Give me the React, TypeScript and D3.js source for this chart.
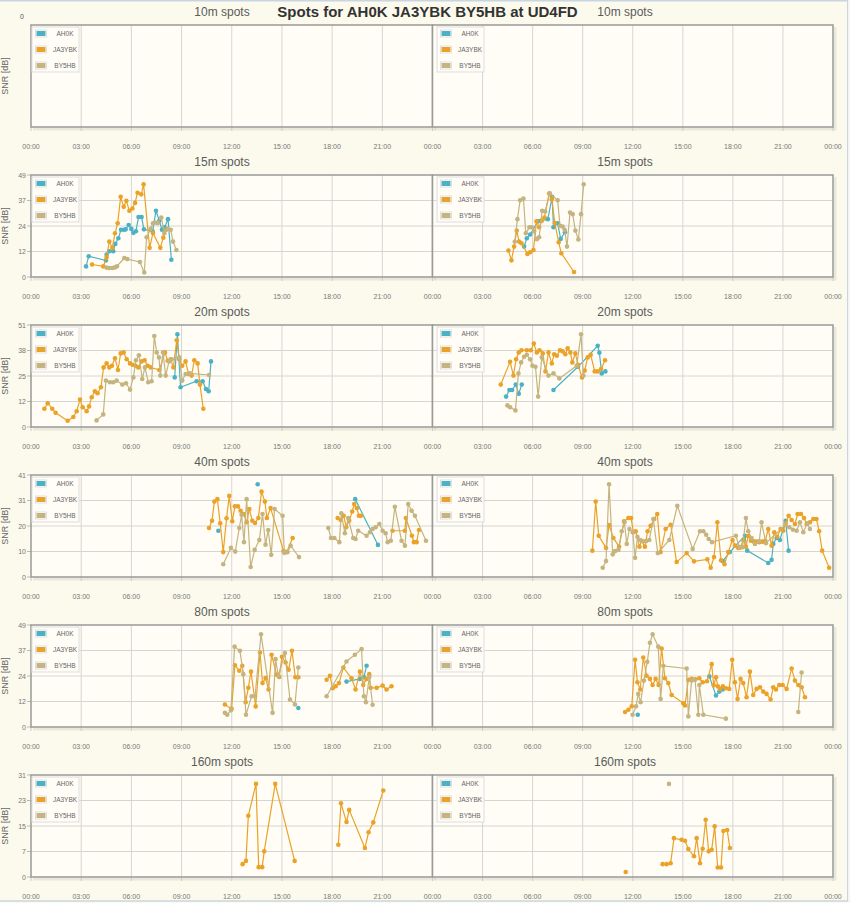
import React from "react";
import * as d3 from "d3";

type P = [number, number];

// ---------- labels ----------
const mainTitle = "Spots for AH0K JA3YBK BY5HB at UD4FD";
const bands = ["10m", "15m", "20m", "40m", "80m", "160m"];
const stations = ["AH0K", "JA3YBK", "BY5HB"];
const stationColors = ["#4bb2c5", "#EAA228", "#c5b47f"];
const xTickLabels = ["00:00", "03:00", "06:00", "09:00", "12:00", "15:00", "18:00", "21:00", "00:00"];
const yMaxByBand = [0, 49, 51, 41, 49, 31];
const yTickLabelsByBand = [[0], [0, 12, 24, 37, 49], [0, 12, 25, 38, 51], [0, 10, 20, 31, 41], [0, 12, 24, 37, 49], [0, 7, 15, 23, 31]];
const GAP_HOURS = 1.5; // spots farther apart than this are not joined

// ---------- data: [hour of day, SNR dB] ----------
const m15L_AH0K: P[] = [[3.29,5.1],[3.45,10.0],[4.48,7.9],[4.52,10.8],[4.68,12.4],[4.92,12.4],[5.04,15.9],[5.22,18.6],[5.38,22.7],[5.56,22.7],[5.66,22.9],[5.84,25.0],[6.0,23.1],[6.12,21.2],[6.27,22.0],[6.43,28.8],[6.61,28.8],[6.75,22.9],[7.27,22.0],[7.47,31.8],[7.67,27.0],[7.83,22.7],[7.99,23.9],[8.19,27.8],[8.39,8.3]];
const m15L_JA3YBK: P[] = [[3.65,6.0],[4.32,5.1],[4.52,9.5],[4.68,17.0],[4.86,14.0],[5.02,21.0],[5.18,25.8],[5.36,38.5],[5.54,33.7],[5.70,36.6],[5.88,31.8],[6.06,32.9],[6.22,35.6],[6.37,40.5],[6.59,39.7],[6.73,44.5],[7.09,14.0],[7.29,21.1],[7.73,14.0],[7.91,18.9],[8.07,22.7]];
const m15L_BY5HB: P[] = [[4.52,4.5],[4.68,4.3],[4.86,4.3],[5.02,4.6],[5.14,5.2],[5.58,9.1],[5.76,8.6],[6.51,7.2],[6.77,2.2],[6.91,19.1],[7.15,23.1],[7.29,25.8],[7.43,26.2],[7.57,25.8],[7.79,28.6],[7.97,21.0],[8.17,23.1],[8.35,22.7],[8.49,17.0],[8.69,13.0]];
const m15R_AH0K: P[] = [[5.49,14.6],[5.65,18.6],[5.85,20.4],[6.31,26.7],[6.49,27.0],[6.91,27.8],[7.17,38.5],[7.25,23.9],[7.50,25.8],[7.68,18.3],[7.94,21.5]];
const m15R_JA3YBK: P[] = [[4.55,12.7],[4.73,8.0],[4.89,14.6],[5.05,22.3],[5.19,17.0],[5.33,16.2],[5.69,11.1],[5.85,11.9],[6.05,13.0],[6.23,26.7],[6.39,23.9],[6.55,27.0],[6.71,28.6],[6.99,40.1],[7.15,37.4],[7.33,25.9],[7.56,16.7],[7.72,11.4],[8.48,2.4]];
const m15R_BY5HB: P[] = [[4.93,16.9],[5.09,27.8],[5.25,36.9],[5.45,37.7],[5.59,21.0],[5.81,23.9],[5.95,23.9],[6.09,21.9],[6.25,18.1],[6.39,19.1],[6.57,31.8],[6.75,31.5],[7.03,40.2],[7.50,36.9],[7.64,24.6],[7.80,24.2],[7.92,22.7],[8.06,14.6],[8.24,31.0],[8.40,30.2],[8.56,22.3],[8.74,18.0],[8.90,30.2],[9.06,44.5]];

const m20L_AH0K: P[] = [[8.59,24.8],[8.75,46.4],[8.94,19.9],[9.90,22.9],[10.26,22.9],[10.46,19.0],[10.62,17.9],[10.76,32.8]];
const m20L_JA3YBK: P[] = [[0.80,9.1],[1.00,11.9],[1.27,9.1],[1.47,7.1],[2.19,3.1],[2.53,5.0],[2.73,7.9],[2.93,13.7],[3.09,9.9],[3.33,7.9],[3.47,10.3],[3.63,14.9],[3.82,17.9],[3.98,16.9],[4.18,19.9],[4.34,29.8],[4.52,31.8],[4.68,29.8],[4.84,30.6],[5.02,34.4],[5.20,28.5],[5.36,36.8],[5.54,37.3],[5.72,33.9],[5.92,31.8],[6.08,31.1],[6.25,30.6],[6.41,29.8],[6.61,32.8],[6.79,33.4],[6.97,30.6],[7.15,29.8],[7.67,28.5],[8.01,37.3],[8.17,33.1],[8.35,33.9],[8.51,29.8],[8.71,43.4],[8.86,33.9],[9.04,30.6],[9.24,32.8],[9.42,26.5],[9.60,25.7],[9.76,33.4],[9.96,31.8],[10.10,21.2],[10.30,9.1]];
const m20L_BY5HB: P[] = [[3.92,3.3],[4.32,6.3],[4.48,23.2],[4.72,22.4],[4.92,22.4],[5.12,23.2],[5.46,21.2],[5.68,21.9],[5.92,18.7],[6.12,24.8],[6.27,33.4],[6.45,35.9],[6.65,24.0],[6.81,29.8],[7.01,22.4],[7.21,22.9],[7.37,45.5],[7.51,37.3],[7.65,34.8],[7.73,25.7],[7.89,37.3],[8.05,25.7],[8.25,32.8],[8.41,33.9],[8.86,34.8],[9.04,23.2],[9.24,26.5],[9.50,26.8],[10.64,26.0]];
const m20R_AH0K: P[] = [[4.41,15.2],[4.61,18.5],[4.77,18.5],[4.99,21.2],[5.17,16.6],[5.35,21.2],[7.25,18.5],[8.72,30.1],[9.90,40.6],[10.00,37.1],[10.14,26.8],[10.36,27.8]];
const m20R_JA3YBK: P[] = [[4.09,21.2],[4.65,32.6],[4.85,25.7],[5.01,33.9],[5.17,37.3],[5.33,38.4],[5.65,38.4],[5.89,38.4],[6.07,41.7],[6.25,37.3],[6.41,38.4],[6.61,36.8],[6.77,27.8],[6.95,37.3],[7.15,31.8],[7.29,36.4],[7.45,35.6],[7.64,38.4],[7.80,37.8],[7.96,36.4],[8.10,39.4],[8.26,37.3],[8.38,32.3],[8.56,36.8],[8.72,31.1],[8.96,24.8],[9.12,28.2],[9.30,34.8],[9.48,36.1],[9.72,27.8],[9.90,27.8],[10.10,29.0],[10.34,33.4]];
const m20R_BY5HB: P[] = [[4.49,10.8],[4.65,9.9],[4.97,8.3],[5.15,26.8],[5.31,32.3],[5.49,35.1],[5.65,36.1],[5.85,33.9],[5.99,30.6],[6.17,30.1],[6.33,15.2],[6.55,34.8],[6.95,25.7],[7.25,26.8],[7.60,24.3],[8.64,30.6],[8.90,46.4],[9.04,25.7]];

const m40L_AH0K: P[] = [[11.20,18.6],[13.55,37.3],[19.38,31.3],[20.74,12.9]];
const m40L_JA3YBK: P[] = [[10.64,19.7],[10.82,22.6],[10.96,30.3],[11.14,31.3],[11.31,21.6],[11.49,10.0],[11.69,23.6],[11.85,32.6],[12.03,22.4],[12.19,28.4],[12.37,28.4],[12.53,26.6],[12.71,25.3],[12.89,22.0],[13.05,27.3],[13.23,22.6],[13.39,21.7],[13.59,23.7],[13.78,34.3],[13.98,30.3],[14.10,23.7],[14.32,27.7],[15.10,10.4],[15.28,10.0],[15.64,15.7],[18.33,23.7],[18.51,22.9],[18.69,24.6],[18.84,20.0],[19.02,22.6],[19.20,26.3],[19.32,29.3],[19.48,27.7],[19.60,24.6],[19.72,24.6],[21.61,18.6],[22.35,18.6],[22.41,23.7],[22.77,16.6],[22.89,14.0],[23.05,14.0],[23.19,18.9]];
const m40L_BY5HB: P[] = [[11.49,5.1],[11.95,11.7],[12.21,10.2],[12.45,19.7],[12.59,25.0],[12.73,14.0],[12.89,31.3],[13.13,4.0],[13.37,10.9],[13.65,14.9],[13.84,25.3],[14.02,13.0],[14.18,18.9],[14.36,8.9],[14.56,27.3],[15.04,24.6],[15.14,9.7],[15.34,10.0],[15.52,12.6],[16.02,8.0],[17.77,19.7],[17.93,15.7],[18.13,15.7],[18.43,14.0],[18.55,25.6],[18.76,17.6],[18.96,23.7],[19.26,15.7],[19.40,15.3],[19.56,18.6],[20.06,16.6],[20.26,18.0],[20.42,19.3],[20.60,20.0],[20.82,21.3],[21.02,18.6],[21.20,17.6],[21.32,14.0],[21.51,14.6],[21.75,28.2],[22.15,14.6],[22.35,12.6],[22.55,29.3],[22.75,26.6],[22.95,24.6],[23.61,14.6]];
const m40R_AH0K: P[] = [[17.39,6.4],[17.82,10.0],[18.72,16.6],[18.86,10.6],[20.12,5.6],[20.32,6.9],[20.42,13.3],[20.62,15.7],[20.82,14.9],[21.16,22.6],[21.34,10.6]];
const m40R_JA3YBK: P[] = [[9.58,10.6],[9.78,30.3],[9.96,16.6],[10.40,11.7],[10.58,20.9],[10.84,15.7],[11.18,12.2],[11.48,22.4],[11.74,23.7],[11.90,23.7],[12.04,18.0],[12.18,18.4],[12.40,12.2],[12.53,14.6],[12.73,12.2],[12.89,18.4],[13.07,20.6],[13.29,23.3],[13.47,25.3],[13.67,10.0],[13.97,19.3],[14.27,21.0],[14.63,6.0],[15.23,9.6],[15.67,6.3],[16.47,7.1],[16.67,3.7],[16.87,8.0],[17.07,22.0],[17.29,6.7],[17.50,5.1],[17.72,10.0],[17.98,14.9],[18.14,12.6],[18.32,11.7],[18.45,11.9],[18.62,14.9],[18.78,12.2],[18.92,16.5],[19.08,14.6],[19.25,14.3],[19.42,14.2],[19.58,14.0],[19.76,14.2],[19.94,14.6],[20.12,19.3],[20.32,12.6],[20.48,18.0],[20.66,16.2],[20.86,19.3],[21.02,18.6],[21.16,21.6],[21.34,24.6],[21.52,22.9],[21.72,21.3],[21.88,25.3],[22.08,25.3],[22.26,23.7],[22.42,21.3],[22.62,22.0],[22.82,23.3],[23.01,23.3],[23.17,18.4],[23.35,10.6],[23.77,3.7]];
const m40R_BY5HB: P[] = [[10.20,3.7],[10.40,6.4],[10.58,37.3],[10.80,9.1],[10.94,10.4],[11.14,10.9],[11.34,18.4],[11.50,22.0],[11.64,13.3],[11.80,19.3],[12.00,18.0],[12.14,7.7],[12.28,16.2],[12.44,14.9],[12.60,14.4],[12.79,14.4],[12.99,14.9],[13.23,23.3],[13.50,9.6],[14.19,14.9],[14.67,28.6],[15.59,11.3],[16.03,18.4],[16.23,18.4],[16.40,17.0],[16.55,15.3],[16.75,14.0],[18.18,16.6],[18.40,12.0],[18.58,12.0],[18.78,23.7],[18.92,18.4],[19.12,15.7],[19.32,13.3],[19.58,14.4],[19.72,22.0],[19.98,13.6],[21.16,21.0],[21.38,20.0],[21.60,19.0],[21.82,18.6],[22.02,22.0],[22.22,18.0],[22.46,21.6],[22.62,19.3]];

const m80L_AH0K: P[] = [[15.98,9.1],[18.86,21.8],[19.66,23.1],[19.90,24.0],[20.06,29.4]];
const m80L_JA3YBK: P[] = [[11.59,10.8],[11.99,8.7],[12.19,29.7],[12.45,27.0],[12.63,29.4],[12.83,11.9],[12.99,18.8],[13.15,26.6],[13.43,9.9],[13.69,35.8],[13.84,21.1],[14.02,23.5],[14.20,18.0],[14.38,34.7],[14.68,25.1],[14.84,24.0],[15.00,33.7],[15.22,31.0],[15.40,27.5],[15.60,36.6],[15.80,23.9],[15.98,23.9],[17.67,22.7],[17.87,24.6],[18.03,18.6],[18.21,19.6],[18.41,21.1],[18.67,28.6],[19.16,23.4],[19.40,18.0],[19.66,26.6],[19.86,20.2],[20.04,23.0],[20.22,25.4],[20.30,18.8],[20.66,18.8],[21.02,19.9],[21.25,18.0],[21.55,19.6]];
const m80L_BY5HB: P[] = [[11.59,6.8],[11.73,5.9],[11.95,8.0],[12.17,38.6],[12.49,36.6],[12.69,25.4],[12.85,5.9],[13.19,14.8],[13.39,14.8],[13.75,44.5],[14.44,6.8],[14.62,32.6],[14.78,24.6],[15.18,35.5],[15.48,13.2],[15.78,10.8],[15.98,28.6],[17.67,14.8],[18.86,31.5],[19.36,34.7],[19.76,37.4],[19.90,14.8],[20.02,11.9],[20.22,24.0],[20.42,10.7]];
const m80R_AH0K: P[] = [[12.30,5.9],[16.59,24.3],[16.99,15.1],[17.19,17.0],[17.39,18.0]];
const m80R_JA3YBK: P[] = [[11.54,7.2],[11.74,8.3],[11.94,10.0],[12.14,32.3],[12.28,21.5],[12.45,18.0],[12.63,33.4],[12.83,24.6],[13.03,23.1],[13.19,20.2],[13.37,23.1],[13.55,20.2],[13.73,37.7],[13.93,23.4],[14.13,21.1],[14.33,15.4],[15.03,11.4],[15.13,10.3],[15.33,22.7],[15.53,23.1],[15.75,22.9],[15.99,23.4],[16.19,21.5],[16.45,22.0],[16.73,30.2],[16.85,20.0],[16.99,23.9],[17.10,19.5],[17.23,18.3],[17.40,19.5],[17.58,18.6],[17.78,18.3],[17.96,32.3],[18.12,21.5],[18.28,13.5],[18.46,23.1],[18.62,21.1],[18.82,14.3],[19.02,26.6],[19.22,15.4],[19.42,18.3],[19.62,19.1],[19.82,17.0],[20.02,15.9],[20.26,13.2],[20.42,19.1],[20.58,18.0],[20.78,20.2],[20.98,20.2],[21.22,18.3],[21.52,28.1],[21.72,22.3],[21.92,20.2],[22.12,19.1],[22.32,14.3]];
const m80R_BY5HB: P[] = [[11.99,5.9],[12.20,10.0],[12.33,15.9],[12.47,11.9],[12.67,22.3],[12.87,31.3],[13.03,40.5],[13.19,44.5],[13.53,38.6],[13.67,13.5],[13.83,29.4],[15.23,28.1],[15.33,5.1],[15.53,22.3],[15.73,22.7],[15.93,5.9],[15.99,20.2],[16.23,5.9],[17.58,4.0],[21.92,7.2],[22.12,26.2]];

const m160L_JA3YBK: P[] = [[12.65,3.9],[12.85,4.9],[12.99,18.6],[13.45,28.3],[13.61,3.0],[13.82,3.0],[13.94,7.8],[14.60,28.3],[15.76,4.9],[18.37,9.8],[18.53,22.4],[18.86,16.7],[19.02,20.4],[19.96,8.8],[20.18,13.6],[20.46,16.6],[21.06,26.3]];
const m160R_JA3YBK: P[] = [[11.58,1.5],[13.79,3.9],[14.03,3.9],[14.27,4.2],[14.47,11.8],[14.93,11.3],[15.13,11.0],[15.33,8.5],[15.67,6.3],[15.83,11.8],[16.03,4.2],[16.19,8.6],[16.37,17.4],[16.55,7.8],[16.73,8.3],[16.91,15.4],[17.09,2.9],[17.29,2.9],[17.43,14.0],[17.66,14.3],[17.82,8.8]];
const m160R_BY5HB: P[] = [[14.17,28.3]];
const none: P[] = [];

// per band: [left panel series, right panel series], series order = stations
const panelData: P[][][][] = [
  [[none, none, none], [none, none, none]],
  [[m15L_AH0K, m15L_JA3YBK, m15L_BY5HB], [m15R_AH0K, m15R_JA3YBK, m15R_BY5HB]],
  [[m20L_AH0K, m20L_JA3YBK, m20L_BY5HB], [m20R_AH0K, m20R_JA3YBK, m20R_BY5HB]],
  [[m40L_AH0K, m40L_JA3YBK, m40L_BY5HB], [m40R_AH0K, m40R_JA3YBK, m40R_BY5HB]],
  [[m80L_AH0K, m80L_JA3YBK, m80L_BY5HB], [m80R_AH0K, m80R_JA3YBK, m80R_BY5HB]],
  [[none, m160L_JA3YBK, none], [none, m160R_JA3YBK, m160R_BY5HB]],
];

// ---------- layout ----------
const W = 850, H = 903;
const ROW_TOP0 = 25, ROW_STEP = 150, PLOT_H = 102;
const PANELS = [
  { x0: 31, x1: 432.5, titleX: 222, legendDx: 1, showY: true, firstLabel: 0 },
  { x0: 432.5, x1: 833, titleX: 625, legendDx: 4.5, showY: false, firstLabel: 1 },
];
const FONT = "'Liberation Sans', Arial, sans-serif";

function segments(pts: P[]): P[][] {
  const out: P[][] = [];
  let cur: P[] = [];
  pts.forEach((p, i) => {
    if (i > 0 && p[0] - pts[i - 1][0] > GAP_HOURS) { out.push(cur); cur = []; }
    cur.push(p);
  });
  if (cur.length) out.push(cur);
  return out;
}

function Panel({ bandIdx, side }: { bandIdx: number; side: number }) {
  const cfg = PANELS[side];
  const top = ROW_TOP0 + bandIdx * ROW_STEP;
  const bottom = top + PLOT_H;
  const ymax = yMaxByBand[bandIdx];
  const ticks = yTickLabelsByBand[bandIdx];
  const x = d3.scaleLinear().domain([0, 24]).range([cfg.x0, cfg.x1]);
  const y = d3.scaleLinear().domain([0, ymax || 1]).range([bottom, top]);
  const line = d3.line<P>().x((d) => x(d[0])).y((d) => y(d[1]));
  const series = panelData[bandIdx][side];
  const xt = d3.range(0, 25, 3);
  const yPos = ticks.map((_, i) => (ymax ? (ymax * i) / (ticks.length - 1) : 0));

  return (
    <g>
      <text x={cfg.titleX} y={top - 9} textAnchor="middle" fontFamily={FONT} fontSize={12} fill="#5a5a5a">
        {bands[bandIdx]} spots
      </text>
      {/* shadow */}
      <path d={`M${cfg.x0 + 2},${bottom + 2}H${cfg.x1 + 2}V${top + 2}`} fill="none" stroke="rgba(0,0,0,0.07)" strokeWidth={3} />
      <rect x={cfg.x0} y={top} width={cfg.x1 - cfg.x0} height={PLOT_H} fill="#fffdf6" />
      {xt.map((h, i) => (
        <g key={"xg" + i}>
          {i > 0 && i < xt.length - 1 && (
            <line x1={x(h)} x2={x(h)} y1={top} y2={bottom} stroke="#d6d6d0" strokeWidth={1} />
          )}
          <line x1={x(h)} x2={x(h)} y1={bottom} y2={bottom + 4} stroke="#ccc" strokeWidth={1} />
          {i >= cfg.firstLabel && (
            <text x={x(h)} y={bottom + 22} textAnchor="middle" fontFamily={FONT} fontSize={7} fill="#777">
              {xTickLabels[i]}
            </text>
          )}
        </g>
      ))}
      {ymax > 0 &&
        yPos.map((v, i) => (
          <g key={"yg" + i}>
            {i > 0 && i < yPos.length - 1 && (
              <line x1={cfg.x0} x2={cfg.x1} y1={y(v)} y2={y(v)} stroke="#d6d6d0" strokeWidth={1} />
            )}
            {cfg.showY && (
              <>
                <line x1={cfg.x0 - 4} x2={cfg.x0} y1={y(v)} y2={y(v)} stroke="#bbb" strokeWidth={1} />
                <text x={cfg.x0 - 5} y={y(v) + 2.5} textAnchor="end" fontFamily={FONT} fontSize={7} fill="#777">
                  {ticks[i]}
                </text>
              </>
            )}
          </g>
        ))}
      {ymax === 0 && cfg.showY && (
        <text x={cfg.x0 - 9} y={top - 6} textAnchor="middle" fontFamily={FONT} fontSize={7} fill="#555">
          {ticks[0]}
        </text>
      )}
      <rect x={cfg.x0} y={top} width={cfg.x1 - cfg.x0} height={PLOT_H} fill="none" stroke="#999" strokeWidth={1.5} />
      {cfg.showY && (
        <text
          transform={`translate(8,${top + PLOT_H / 2}) rotate(-90)`}
          textAnchor="middle"
          fontFamily={FONT}
          fontSize={9}
          fill="#666"
        >
          SNR [dB]
        </text>
      )}
      {series.map((pts, si) => (
        <g key={"s" + si}>
          {segments(pts).map((seg, k) =>
            seg.length > 1 ? (
              <path key={k} d={line(seg) || ""} fill="none" stroke={stationColors[si]} strokeWidth={1.2} />
            ) : null
          )}
          {pts.map((p, k) => (
            <circle key={k} cx={x(p[0])} cy={y(p[1])} r={2.3} fill={stationColors[si]} />
          ))}
        </g>
      ))}
      {/* legend */}
      <g>
        <rect x={cfg.x0 + cfg.legendDx} y={top + 2} width={47} height={45} fill="#fffdf6" stroke="#ddd" strokeWidth={1} />
        {stations.map((s, i) => (
          <g key={s}>
            <rect x={cfg.x0 + cfg.legendDx + 3.5} y={top + 5} width={11} height={7} fill="#fff" stroke="#ccc" strokeWidth={0.6} transform={`translate(0,${16 * i})`} />
            <rect x={cfg.x0 + cfg.legendDx + 4.5} y={top + 6} width={9} height={5} fill={stationColors[i]} transform={`translate(0,${16 * i})`} />
            <text x={cfg.x0 + cfg.legendDx + 33} y={top + 10.5 + 16 * i} textAnchor="middle" fontFamily={FONT} fontSize={6.5} fill="#666">
              {s}
            </text>
          </g>
        ))}
      </g>
    </g>
  );
}

export default function App() {
  return (
    <div style={{ position: "absolute", left: 0, top: 0 }}>
      <svg width={W} height={H} style={{ display: "block" }}>
        <rect x={0} y={0} width={W} height={H} fill="#fbfaec" />
        <rect x={848} y={0} width={2} height={H} fill="#f3f6f8" />
        <line x1={0} x2={848} y1={0.5} y2={0.5} stroke="#c9d6e2" strokeWidth={2} />
        <line x1={847.5} x2={847.5} y1={0} y2={901} stroke="#c9d6e2" strokeWidth={1} />
        <line x1={0} x2={848} y1={901} y2={901} stroke="#c9d6e2" strokeWidth={1.5} />
        {bands.map((b, bi) => (
          <g key={b}>
            <Panel bandIdx={bi} side={0} />
            <Panel bandIdx={bi} side={1} />
          </g>
        ))}
        <text x={427.5} y={17} textAnchor="middle" fontFamily={FONT} fontWeight="bold" fontSize={15} fill="#333">
          {mainTitle}
        </text>
      </svg>
    </div>
  );
}
